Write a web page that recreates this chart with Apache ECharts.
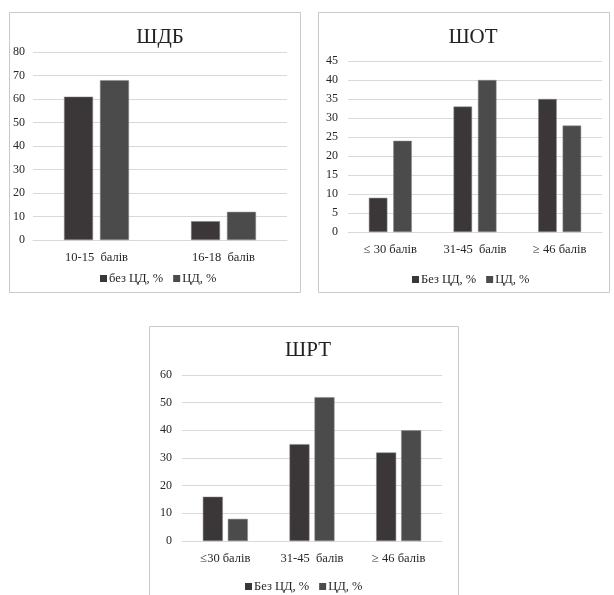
<!DOCTYPE html>
<html><head><meta charset="utf-8">
<script src="https://cdn.jsdelivr.net/npm/echarts@6/dist/echarts.min.js"></script>
<style>html,body{margin:0;padding:0;background:#fff}#c{width:614px;height:595px}</style>
</head><body><div id="c"></div>
<script>
// Chart 1: ШДБ
const cats1 = ['10-15  балів', '16-18  балів'];
const noDM1 = [61, 8];
const dm1 = [68, 12];
const yTicks1 = {min: 0, max: 80, interval: 10};
// Chart 2: ШОТ
const cats2 = ['≤ 30 балів', '31-45  балів', '≥ 46 балів'];
const noDM2 = [9, 33, 35];
const dm2 = [24, 40, 28];
const yTicks2 = {min: 0, max: 45, interval: 5};
// Chart 3: ШРТ
const cats3 = ['≤30 балів', '31-45  балів', '≥ 46 балів'];
const noDM3 = [16, 35, 32];
const dm3 = [8, 52, 40];
const yTicks3 = {min: 0, max: 60, interval: 10};
const titles = ['ШДБ', 'ШОТ', 'ШРТ'];
const names1 = ['без ЦД, %', 'ЦД, %'];
const names2 = ['Без ЦД, %', 'ЦД, %'];

const FONT = 'Liberation Serif';
const TXT = '#262626';
const C1 = '#3b3738', C2 = '#4b4b4b';

const chart = echarts.init(document.getElementById('c'), null, {renderer: 'canvas'});

function yAxis(i, t, m) {
  return {type: 'value', gridIndex: i, min: t.min, max: t.max, interval: t.interval,
    axisLine: {show: false}, axisTick: {show: false},
    axisLabel: {fontFamily: FONT, fontSize: 12, color: TXT, margin: m},
    splitLine: {lineStyle: {color: '#d9d9d9', width: 1}}};
}
function xAxis(i, cats) {
  return {type: 'category', gridIndex: i, data: cats,
    axisLine: {lineStyle: {color: '#d9d9d9'}}, axisTick: {show: false},
    axisLabel: {fontFamily: FONT, fontSize: 12.5, color: TXT, margin: 11}};
}
function bars(i, names, a, b, w, gap) {
  return [
    {type: 'bar', name: names[0], xAxisIndex: i, yAxisIndex: i, data: a, barWidth: w, barGap: gap,
      itemStyle: {color: C1, borderColor: '#8a8a8a', borderWidth: 0.5}},
    {type: 'bar', name: names[1], xAxisIndex: i, yAxisIndex: i, data: b, barWidth: w, barGap: gap,
      itemStyle: {color: C2, borderColor: '#8a8a8a', borderWidth: 0.5}}
  ];
}
function legend(names, x, y) {
  return {data: names, left: x, top: y, orient: 'horizontal', itemWidth: 7, itemHeight: 7, itemGap: 10,
    icon: 'rect', textStyle: {fontFamily: FONT, fontSize: 12.5, color: TXT, padding: [0, 0, 0, -3]}, selectedMode: false,
    itemStyle: {borderWidth: 0}};
}

chart.setOption({
  animation: false,
  graphic: [
    {type: 'rect', shape: {x: 9.5, y: 12.5, width: 291, height: 280}, style: {fill: 'none', stroke: '#c9c9c9', lineWidth: 1}},
    {type: 'rect', shape: {x: 318.5, y: 12.5, width: 291, height: 280}, style: {fill: 'none', stroke: '#c9c9c9', lineWidth: 1}},
    {type: 'rect', shape: {x: 149.5, y: 326.5, width: 309, height: 275}, style: {fill: 'none', stroke: '#c9c9c9', lineWidth: 1}}
  ],
  title: [
    {text: titles[0], left: 155, top: 22, textAlign: 'center', textStyle: {fontFamily: FONT, fontSize: 21, fontWeight: 'normal', color: '#222'}},
    {text: titles[1], left: 468, top: 22, textAlign: 'center', textStyle: {fontFamily: FONT, fontSize: 21, fontWeight: 'normal', color: '#222'}},
    {text: titles[2], left: 303, top: 335, textAlign: 'center', textStyle: {fontFamily: FONT, fontSize: 21, fontWeight: 'normal', color: '#222'}}
  ],
  legend: [
    legend(names1, 95, 267),
    legend(names2, 407, 268),
    legend(names2, 240, 575)
  ],
  grid: [
    {left: 33, top: 52, width: 254, height: 188},
    {left: 348, top: 61, width: 254, height: 171},
    {left: 182, top: 375, width: 260, height: 166}
  ],
  xAxis: [xAxis(0, cats1), xAxis(1, cats2), xAxis(2, cats3)],
  yAxis: [yAxis(0, yTicks1, 8), yAxis(1, yTicks2, 10), yAxis(2, yTicks3, 10)],
  series: [
    ...bars(0, names1, noDM1, dm1, 29, '24%'),
    ...bars(1, names2, noDM2, dm2, 18.5, '32%'),
    ...bars(2, names2, noDM3, dm3, 20, '25%')
  ]
});
</script></body></html>
